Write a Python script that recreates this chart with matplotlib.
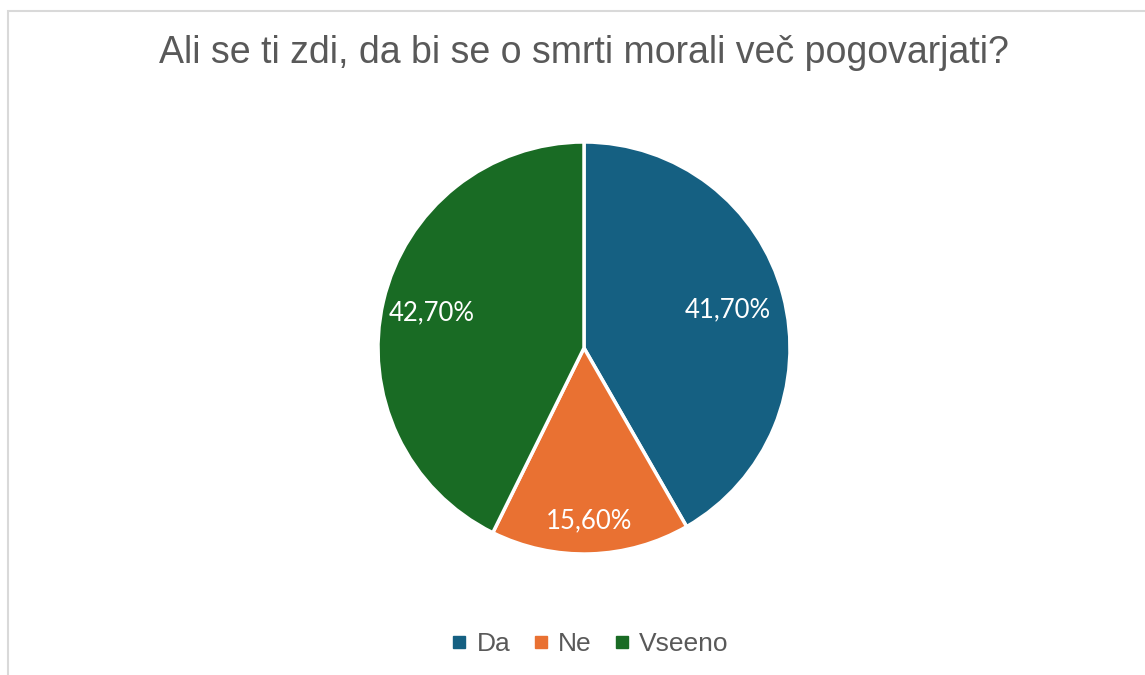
import matplotlib.pyplot as plt
import numpy as np
from matplotlib.patches import Rectangle

# ── Data ──────────────────────────────────────────────────────────────────────
TITLE = "Ali se ti zdi, da bi se o smrti morali več pogovarjati?"
CATEGORIES = ["Da", "Ne", "Vseeno"]
SHARES = [41.7, 15.6, 42.7]
LABELS = ["41,70%", "15,60%", "42,70%"]
COLORS = ["#156082", "#E97132", "#196B24"]
LABEL_DIST = [0.72, 0.84, 0.76]
# ─────────────────────────────────────────────────────────────────────────────

fig = plt.figure(figsize=(11.45, 6.75), dpi=100)
W, H = 1145, 675

# light chart-area border (runs off the right/bottom edge)
fig.patches.append(Rectangle((7.5 / W, -0.2), 1.2, 1.2 - 10.5 / H, transform=fig.transFigure,
                             fill=False, edgecolor="#d9d9d9", linewidth=1.5))

fig.text(584 / W, 1 - 53 / H, TITLE, ha="center", va="center",
         fontsize=27, color="#595959", family="Liberation Sans")

R = 206
cx, cy = 584, 348
ax = fig.add_axes([(cx - R) / W, 1 - (cy + R) / H, 2 * R / W, 2 * R / H])
wedges, _ = ax.pie(SHARES, colors=COLORS, startangle=90, counterclock=False,
                   wedgeprops=dict(edgecolor="white", linewidth=2.5))
ax.set_xlim(-1, 1)
ax.set_ylim(-1, 1)
ax.set_aspect("equal")
ax.axis("off")

for w, lab, d in zip(wedges, LABELS, LABEL_DIST):
    mid = np.deg2rad((w.theta1 + w.theta2) / 2)
    ax.text(d * np.cos(mid), d * np.sin(mid), lab, ha="center", va="center",
            color="white", fontsize=18.5, family="Lato")

handles = [plt.Line2D([], [], marker="s", linestyle="", markersize=8,
                      markerfacecolor=c, markeredgecolor=c) for c in COLORS]
fig.legend(handles, CATEGORIES, loc="center", bbox_to_anchor=(590 / W, 1 - 644 / H),
           ncol=3, frameon=False, handlelength=0.6, handletextpad=0.35, columnspacing=0.85,
           prop=dict(family="Liberation Sans", size=19), labelcolor="#595959")

fig.savefig("out.png", dpi=100)
